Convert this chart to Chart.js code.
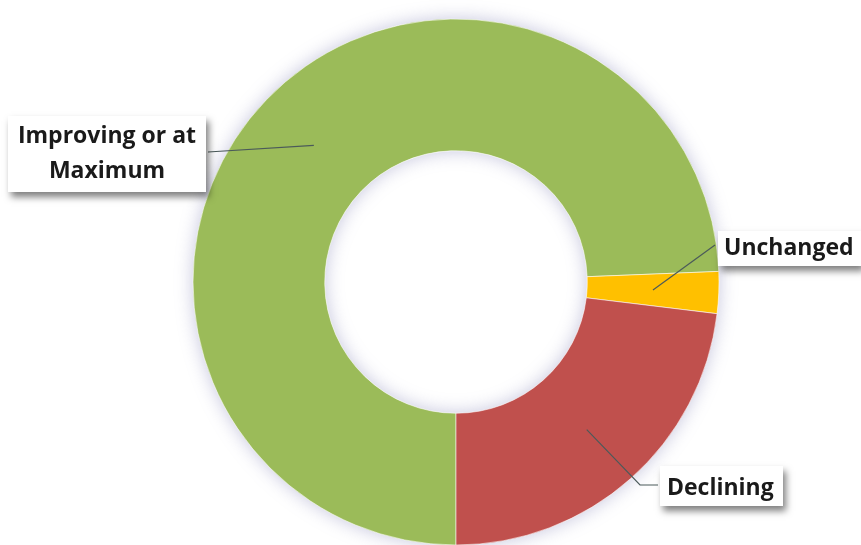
<!DOCTYPE html>
<html><head><meta charset="utf-8">
<script src="https://cdn.jsdelivr.net/npm/chart.js@4/dist/chart.umd.min.js"></script>
<style>html,body{margin:0;padding:0;background:#fff;overflow:hidden}#wrap{width:861px;height:545px}</style>
</head><body><div id="wrap"><canvas id="c" width="861" height="545"></canvas></div>
<script>
const categories = ['Improving or at Maximum', 'Unchanged', 'Declining'];
const values = [29, 1, 9];
const colors = ['#9BBB59', '#FFC000', '#C0504D'];
const labelLines = [['Improving or at', 'Maximum'], ['Unchanged'], ['Declining']];

const FONT = 'bold 23px "Open Sans"';

const ringShadow = {
  id: 'ringShadow',
  beforeDatasetsDraw(chart) {
    const arc = chart.getDatasetMeta(0).data[0];
    if (!arc) return;
    const {x, y, innerRadius, outerRadius} = arc.getProps(['x','y','innerRadius','outerRadius'], true);
    const ctx = chart.ctx;
    ctx.save();
    ctx.shadowColor = 'rgba(110,110,170,0.40)';
    ctx.shadowBlur = 18;
    ctx.fillStyle = '#ffffff';
    ctx.beginPath();
    ctx.arc(x, y, outerRadius, 0, Math.PI * 2);
    ctx.arc(x, y, innerRadius, 0, Math.PI * 2, true);
    ctx.fill('evenodd');
    ctx.restore();
  }
};

// label layout: box, text anchor, leader path end points (layout only)
const labelLayout = [
  {box:[8,116,198,76], align:'center', tx:107, ty:[143,178], path:[[208,152]]},
  {box:[718,231,143,35], align:'left', tx:724, ty:[255], path:[[715,245]]},
  {box:[660,466,123,40], align:'left', tx:667, ty:[495], path:[[640,485],[658,485]]}
];

const calloutLabels = {
  id: 'calloutLabels',
  afterDatasetsDraw(chart) {
    const ctx = chart.ctx;
    const meta = chart.getDatasetMeta(0);
    meta.data.forEach((arc, i) => {
      const L = labelLayout[i];
      const p = arc.tooltipPosition(true);
      ctx.save();
      ctx.strokeStyle = '#4b5a5a';
      ctx.lineWidth = 1.2;
      ctx.beginPath();
      ctx.moveTo(p.x, p.y);
      L.path.forEach(pt => ctx.lineTo(pt[0], pt[1]));
      ctx.stroke();
      ctx.restore();
      ctx.save();
      ctx.shadowColor = 'rgba(0,0,0,0.5)';
      ctx.shadowBlur = 7;
      ctx.shadowOffsetX = 3;
      ctx.shadowOffsetY = 5;
      ctx.fillStyle = '#ffffff';
      ctx.fillRect(L.box[0], L.box[1], L.box[2], L.box[3]);
      ctx.restore();
      ctx.save();
      ctx.font = FONT;
      ctx.fillStyle = '#1a1a1a';
      ctx.textAlign = L.align;
      ctx.textBaseline = 'alphabetic';
      labelLines[i].forEach((t, k) => ctx.fillText(t, L.tx, L.ty[k]));
      ctx.restore();
    });
  }
};

new Chart(document.getElementById('c'), {
  type: 'doughnut',
  data: {
    labels: categories,
    datasets: [{
      data: values,
      backgroundColor: colors,
      borderColor: 'rgba(255,255,255,0.55)',
      borderWidth: 1,
      hoverOffset: 0
    }]
  },
  options: {
    responsive: false,
    devicePixelRatio: 1,
    animation: false,
    rotation: 180,
    cutout: 131,
    radius: 263,
    layout: {padding: {left: 51, right: 0, top: 19, bottom: 0}},
    plugins: {legend: {display: false}, tooltip: {enabled: false}}
  },
  plugins: [ringShadow, calloutLabels]
});
</script>
</body></html>
